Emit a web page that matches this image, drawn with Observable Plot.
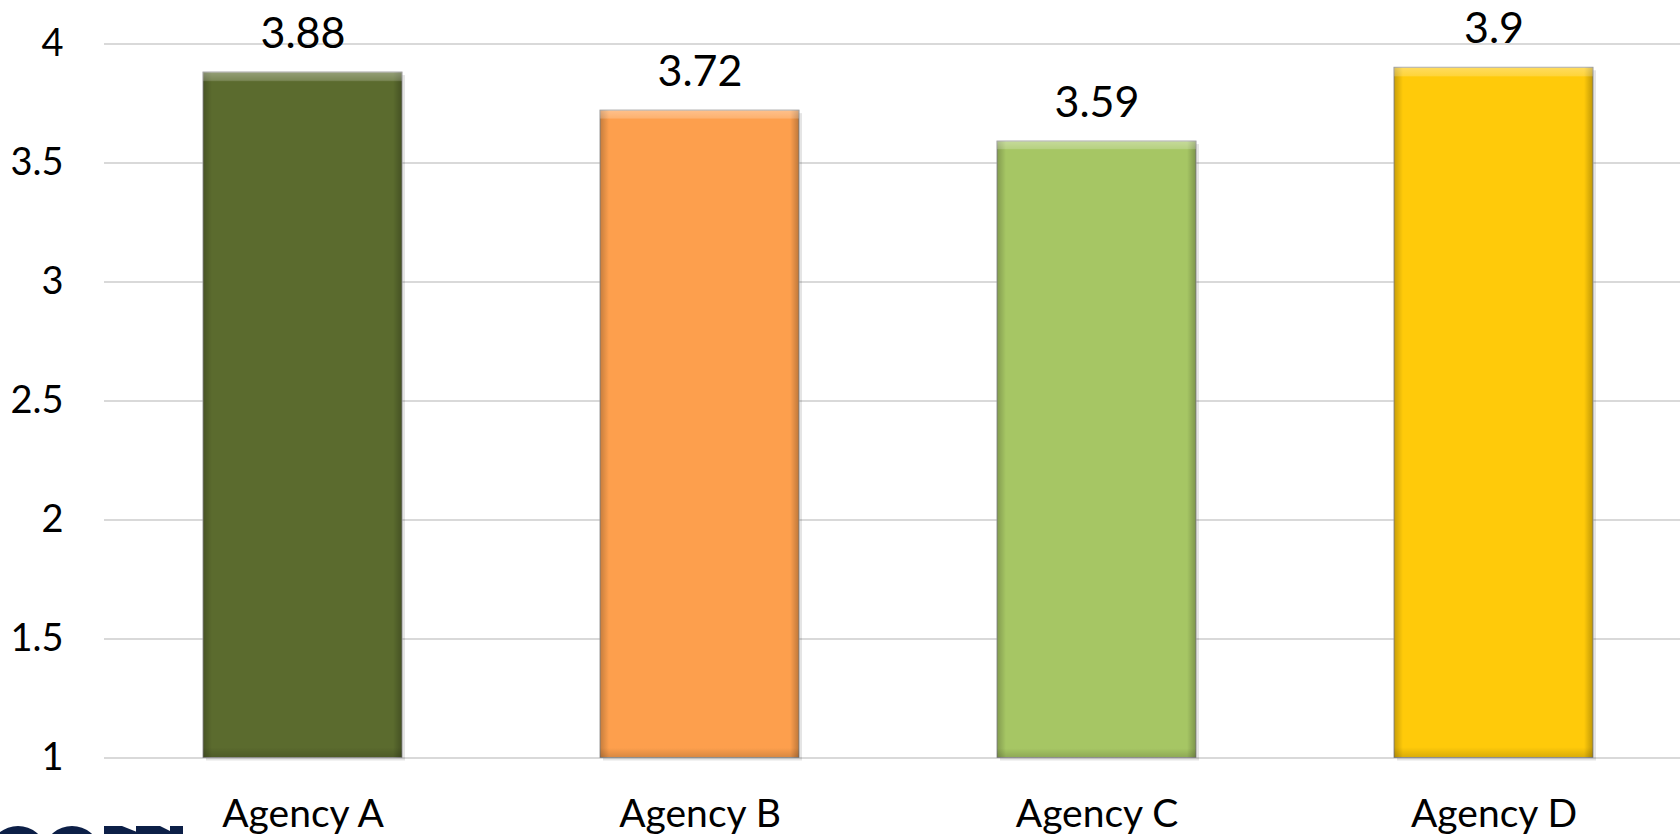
<!DOCTYPE html>
<html>
<head>
<meta charset="utf-8">
<script src="https://cdn.jsdelivr.net/npm/d3@7"></script>
<script src="https://cdn.jsdelivr.net/npm/@observablehq/plot@0.6"></script>
<style>
  html, body { margin: 0; padding: 0; background: #fff; overflow: hidden; width: 1680px; height: 834px; }
  #chart { position: relative; width: 1680px; height: 834px; }
  #logo { position: absolute; left: 0; top: 826px; }
</style>
</head>
<body>
<div id="chart"></div>
<script>
const agencies = ["Agency A", "Agency B", "Agency C", "Agency D"];
const scores = [3.88, 3.72, 3.59, 3.9];
const colors = ["#5b6b2e", "#fd9f4d", "#a6c664", "#ffca0a"];
const yTicks = [1, 1.5, 2, 2.5, 3, 3.5, 4];

const data = agencies.map((a, i) => ({agency: a, score: scores[i], color: colors[i]}));
const font = "Lato, 'Open Sans', sans-serif";

const plot = Plot.plot({
  width: 1680,
  height: 834,
  marginLeft: 104,
  marginRight: -12,
  marginTop: 43.5,
  marginBottom: 76.5,
  style: {fontFamily: font, fontSize: "38px", color: "#000", background: "#fff", overflow: "visible"},
  x: {domain: agencies, paddingInner: 0.5, paddingOuter: 0.25, label: null},
  y: {domain: [1, 4], ticks: yTicks, label: null},
  marks: [
    Plot.gridY(yTicks, {stroke: "#d9d9d9", strokeOpacity: 1, strokeWidth: 2}),
    Plot.axisY(yTicks, {tickSize: 0, tickPadding: 41, fontSize: 38, tickFormat: d => String(d), label: null}),
    Plot.axisX({tickSize: 0, tickPadding: 41, fontSize: 39, label: null}),
    Plot.barY(data, {x: "agency", y1: 1, y2: "score", fill: "#000", fillOpacity: 0.10, dx: 3, dy: 3}),
    Plot.barY(data, {x: "agency", y1: 1, y2: "score", fill: "color", stroke: "#9a9a9a", strokeWidth: 1}),
    Plot.barY(data, {x: "agency", y1: 1, y2: "score", fill: "url(#bevelH)"}),
    Plot.barY(data, {x: "agency", y1: 1, y2: "score", fill: "url(#bevelV)"}),
    Plot.text(data, {x: "agency", y: "score", text: d => String(d.score), lineAnchor: "bottom", dy: -25, fontSize: 43, fill: "#000"})
  ]
});

const ns = "http://www.w3.org/2000/svg";
const defs = document.createElementNS(ns, "defs");
defs.innerHTML = `
  <linearGradient id="bevelH" x1="0" y1="0" x2="1" y2="0">
    <stop offset="0" stop-color="#000" stop-opacity="0.22"/>
    <stop offset="0.045" stop-color="#000" stop-opacity="0.0"/>
    <stop offset="0.955" stop-color="#000" stop-opacity="0.0"/>
    <stop offset="1" stop-color="#000" stop-opacity="0.25"/>
  </linearGradient>
  <linearGradient id="bevelV" x1="0" y1="0" x2="0" y2="1">
    <stop offset="0" stop-color="#fff" stop-opacity="0.35"/>
    <stop offset="0.012" stop-color="#fff" stop-opacity="0.2"/>
    <stop offset="0.014" stop-color="#fff" stop-opacity="0"/>
    <stop offset="0.985" stop-color="#000" stop-opacity="0"/>
    <stop offset="1" stop-color="#000" stop-opacity="0.15"/>
  </linearGradient>`;
plot.insertBefore(defs, plot.firstChild);

const chart = document.getElementById("chart");
chart.appendChild(plot);

// sliver of a logo image at the bottom-left edge (decorative shape, not data)
const logo = document.createElementNS(ns, "svg");
logo.setAttribute("id", "logo");
logo.setAttribute("width", "190");
logo.setAttribute("height", "8");
logo.innerHTML = `
  <g fill="#0c1f47">
    <ellipse cx="18" cy="22" rx="26" ry="22"/>
    <ellipse cx="72" cy="22" rx="26" ry="22"/>
    <path d="M104 0h18l20 8h-38z"/>
    <rect x="136" y="0" width="12" height="8"/>
    <path d="M148 0h12l16 8h-28z"/>
    <rect x="170" y="0" width="13" height="8"/>
  </g>`;
chart.appendChild(logo);
</script>
</body>
</html>
